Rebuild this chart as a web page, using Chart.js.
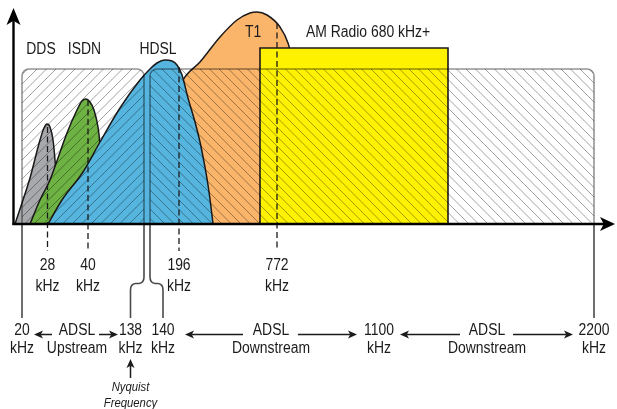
<!DOCTYPE html>
<html>
<head>
<meta charset="utf-8">
<script src="https://cdn.jsdelivr.net/npm/chart.js@4/dist/chart.umd.min.js"></script>
<style>
  html, body { margin: 0; padding: 0; background: #fff; }
  canvas { display: block; }
</style>
</head>
<body>
<canvas id="spectrum" width="617" height="409"></canvas>
<script>
// x = position along the (not to scale) frequency axis, y = signal level above the axis
const ddsCurve  = [[15,0],[22,21],[30,46],[40,84],[44,96],[47,100],[50,97],[53,84],[55,64],[57,34],[58,0]];
const isdnCurve = [[30,0],[40,24],[50,44],[58,66],[67,91],[77,114],[82,123],[86,125],[90,122],[94,114],[98,97],[100,79],[102,44],[103,0]];
const hdslCurve = [[48,0],[62,24],[83,52],[100,82],[120,116],[140,144],[150,155],[157,161],[165,164],[172,163],[177,159],[182,149],[188,126],[195,102],[200,82],[204,62],[208,39],[211,17],[213,0]];
const t1Curve   = [[120,0],[150,59],[183,144],[200,162],[220,187],[237,204],[250,211],[257,212],[267,209],[280,197],[288,181],[292,164],[296,124],[300,64],[303,0]];
const amRadioBand = [260, 448];
const amRadioLevel = 176;

const signalNames = ['DDS', 'ISDN', 'HDSL', 'T1', 'AM Radio 680 kHz+'];

// ADSL upstream / downstream bands
const adslBands = [[22, 144], [150, 594]];
const adslLevel = 155;

// dashed centre frequencies
const markerFreqs = ['28', '40', '196', '772'];
const markerX     = [47.5, 88, 179, 277];
const markerTop   = [97, 124, 157, 201];

// band edges shown under the axis
const edgeFreqs = ['20', '138', '140', '1100', '2200'];
const edgeX     = [22, 130.5, 163, 379, 594];

const bandNames = [['ADSL', 'Upstream'], ['ADSL', 'Downstream'], ['ADSL', 'Downstream']];
const bandNameX = [77, 271, 487];
const bandArrows = [[52, 34], [99, 118], [243, 185], [298, 357], [460, 400], [513, 573]];

// ---- styles / layout ----
const fillColors = ['#a7a9ac', '#6db243', '#55b5df', '#fbb56b', '#fff200'];
const nameAt = [[41, 174], [84.5, 174], [158, 174], [253, 191], [368, 191]];
const FONT = '"Liberation Sans", Arial, sans-serif';
const NARROW = 0.87;   // the artwork uses a condensed face
const INK = '#1c1a1b';

function curveSet(points, color, order) {
  return {
    data: points,
    borderColor: INK,
    borderWidth: 1.5,
    backgroundColor: color,
    fill: 'origin',
    pointRadius: 0,
    cubicInterpolationMode: 'monotone',
    order: order
  };
}

function arrow(ctx, x0, y0, x1, y1, len, half) {
  const a = Math.atan2(y1 - y0, x1 - x0), c = Math.cos(a), s = Math.sin(a);
  ctx.beginPath();
  ctx.moveTo(x0, y0);
  ctx.lineTo(x1 - c * len * 0.7, y1 - s * len * 0.7);
  ctx.stroke();
  ctx.beginPath();
  ctx.moveTo(x1, y1);
  ctx.lineTo(x1 - c * len - s * half, y1 - s * len + c * half);
  ctx.lineTo(x1 - c * len * 0.75, y1 - s * len * 0.75);
  ctx.lineTo(x1 - c * len + s * half, y1 - s * len - c * half);
  ctx.closePath();
  ctx.fill();
}

function boxPath(ctx, l, r, t, b, rad) {
  ctx.beginPath();
  ctx.moveTo(l, b);
  ctx.lineTo(l, t + rad);
  ctx.arcTo(l, t, l + rad, t, rad);
  ctx.lineTo(r - rad, t);
  ctx.arcTo(r, t, r, t + rad, rad);
  ctx.lineTo(r, b);
}

function label(ctx, text, x, y) {
  ctx.save();
  ctx.translate(x, y);
  ctx.scale(NARROW, 1);
  ctx.fillText(text, 0, 0);
  ctx.restore();
}

const overlay = {
  id: 'overlay',
  afterDatasetsDraw(chart) {
    const ctx = chart.ctx;
    const px = v => chart.scales.x.getPixelForValue(v);
    const py = v => chart.scales.y.getPixelForValue(v);
    const base = py(0), top = py(adslLevel);
    ctx.save();

    // hatched ADSL bands (see-through, on top of the signals)
    adslBands.forEach((band, i) => {
      const l = px(band[0]), r = px(band[1]);
      ctx.save();
      boxPath(ctx, l, r, top, base, 7);
      ctx.closePath();
      ctx.clip();
      ctx.strokeStyle = 'rgba(0,0,0,0.36)';
      ctx.lineWidth = 1;
      const h = base - top;
      ctx.beginPath();
      for (let s = l - h - 4; s < r + h; s += 9.5) {
        if (i === 0) { ctx.moveTo(s, base); ctx.lineTo(s + h, top); }
        else { ctx.moveTo(s, top); ctx.lineTo(s + h, base); }
      }
      ctx.stroke();
      ctx.restore();
      ctx.strokeStyle = 'rgba(0,0,0,0.42)';
      ctx.lineWidth = 1.6;
      boxPath(ctx, l, r, top, base, 7);
      ctx.stroke();
    });

    // dashed centre-frequency lines
    ctx.strokeStyle = INK;
    ctx.lineWidth = 1.3;
    ctx.setLineDash([6, 3.5]);
    markerX.forEach((m, i) => {
      ctx.beginPath();
      ctx.moveTo(px(m), py(markerTop[i]));
      ctx.lineTo(px(m), py(-27));
      ctx.stroke();
    });
    ctx.setLineDash([]);

    // band edge lines under the axis
    ctx.strokeStyle = '#4a4a4a';
    ctx.lineWidth = 1.6;
    const bottom = py(-94);
    [adslBands[0][0], adslBands[1][1]].forEach(e => {
      ctx.beginPath();
      ctx.moveTo(px(e), base);
      ctx.lineTo(px(e), bottom);
      ctx.stroke();
    });
    const bendY = py(-59);
    [[adslBands[0][1], edgeX[1]], [adslBands[1][0], edgeX[2]]].forEach(([from, to]) => {
      const a = px(from), b = px(to), d = Math.sign(b - a);
      ctx.beginPath();
      ctx.moveTo(a, base);
      ctx.lineTo(a, bendY - 6);
      ctx.quadraticCurveTo(a, bendY, a + d * 5, bendY + 0.5);
      ctx.lineTo(b - d * 5, bendY + 0.5);
      ctx.quadraticCurveTo(b, bendY + 1, b, bendY + 7);
      ctx.lineTo(b, bottom);
      ctx.stroke();
    });

    // axes with arrow heads
    ctx.strokeStyle = '#000';
    ctx.fillStyle = '#000';
    ctx.lineWidth = 2.4;
    arrow(ctx, px(13.5), base + 1, px(13.5), py(216), 17, 7);
    arrow(ctx, px(12.5), base, px(615), base, 15, 7);

    // text
    ctx.fillStyle = INK;
    ctx.textAlign = 'center';
    ctx.textBaseline = 'middle';
    ctx.font = '16px ' + FONT;
    signalNames.forEach((n, i) => label(ctx, n, px(nameAt[i][0]), py(nameAt[i][1])));
    markerFreqs.forEach((f, i) => {
      label(ctx, f, px(markerX[i]), py(-42));
      label(ctx, 'kHz', px(markerX[i]), py(-63));
    });
    edgeFreqs.forEach((f, i) => {
      label(ctx, f, px(edgeX[i]), py(-107));
      label(ctx, 'kHz', px(edgeX[i]), py(-125));
    });
    bandNames.forEach((n, i) => {
      label(ctx, n[0], px(bandNameX[i]), py(-107));
      label(ctx, n[1], px(bandNameX[i]), py(-125));
    });

    // arrows between the band edges
    ctx.strokeStyle = INK;
    ctx.fillStyle = INK;
    ctx.lineWidth = 1.5;
    bandArrows.forEach(([a, b]) => arrow(ctx, px(a), py(-110.5), px(b), py(-110.5), 9, 4));

    // Nyquist note
    arrow(ctx, px(130.5), py(-154), px(130.5), py(-135), 9, 4);
    ctx.font = 'italic 13px ' + FONT;
    label(ctx, 'Nyquist', px(130.5), py(-163));
    label(ctx, 'Frequency', px(130.5), py(-179));

    ctx.restore();
  }
};

new Chart(document.getElementById('spectrum'), {
  type: 'line',
  data: {
    datasets: [
      curveSet(ddsCurve, fillColors[0], 8),
      curveSet(isdnCurve, fillColors[1], 7),
      curveSet(hdslCurve, fillColors[2], 6),
      curveSet(t1Curve, fillColors[3], 9),
      {
        data: [[amRadioBand[0], 0], [amRadioBand[0], amRadioLevel], [amRadioBand[1], amRadioLevel], [amRadioBand[1], 0]],
        borderColor: INK,
        borderWidth: 1.6,
        backgroundColor: fillColors[4],
        fill: 'origin',
        pointRadius: 0,
        tension: 0,
        order: 5
      }
    ]
  },
  options: {
    responsive: false,
    animation: false,
    devicePixelRatio: 1,
    layout: { padding: 0 },
    plugins: { legend: { display: false }, tooltip: { enabled: false } },
    scales: {
      x: { type: 'linear', min: 0, max: 617, display: false },
      y: { type: 'linear', min: -185, max: 224, display: false }
    }
  },
  plugins: [overlay]
});
</script>
</body>
</html>
